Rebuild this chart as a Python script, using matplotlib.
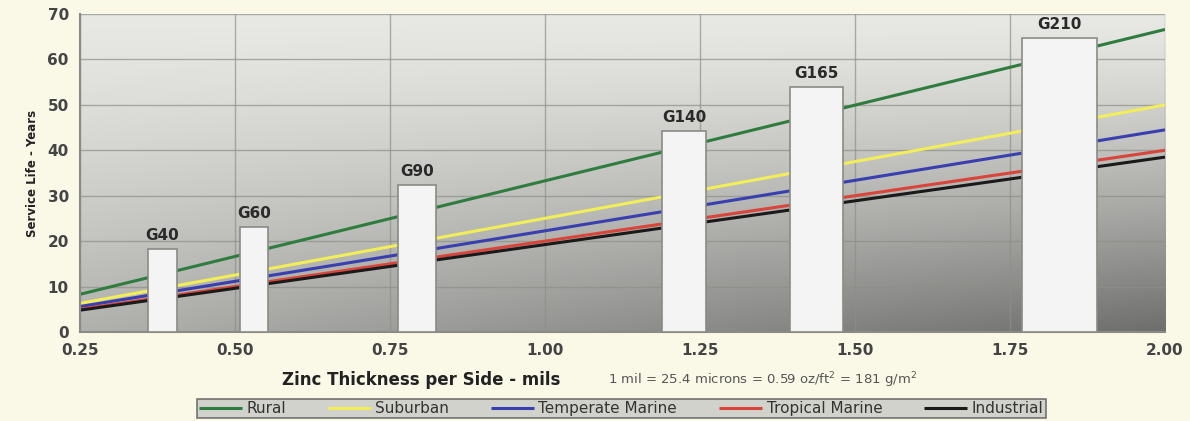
import numpy as np
import matplotlib.pyplot as plt

# coating thickness range (mils) and service life (years) per designation
grades = ['G40', 'G60', 'G90', 'G140', 'G165', 'G210']
grade_lo = [0.36, 0.508, 0.763, 1.189, 1.395, 1.769]
grade_hi = [0.406, 0.553, 0.824, 1.26, 1.48, 1.89]
grade_life = [18.3, 23.1, 32.4, 44.3, 54.0, 64.7]

# service life lines for each environment
thickness = [0.25, 2.00]
rural = [8.3, 66.6]
suburban = [6.3, 50.0]
temperate_marine = [5.6, 44.5]
tropical_marine = [5.0, 40.0]
industrial = [4.8, 38.5]

xticks = [0.25, 0.50, 0.75, 1.00, 1.25, 1.50, 1.75, 2.00]
yticks = [0, 10, 20, 30, 40, 50, 60, 70]

bg = '#faf8e6'
fig = plt.figure(figsize=(11.9, 4.21), dpi=100, facecolor=bg)
ax = fig.add_axes([0.0672, 0.2114, 0.9118, 0.7553])

# shaded plot area: light at the top, darker towards bottom right
ny, nx = 200, 300
ty = np.linspace(0, 1, ny)[:, None]
tx = np.linspace(0, 1, nx)[None, :]
shade = 0.91 - (1 - ty) ** 1.3 * (0.22 + 0.26 * tx)
img = np.dstack([shade, shade, shade * 0.985])
ax.imshow(img, extent=[0, 1, 0, 1], transform=ax.transAxes, origin='lower',
          aspect='auto', zorder=0, interpolation='bilinear')

ax.grid(True, color='#8f8f88', linewidth=1.0, alpha=0.7, zorder=1)

series = [
    ('Rural', rural, '#2e7d3e'),
    ('Suburban', suburban, '#f2ee5a'),
    ('Temperate Marine', temperate_marine, '#3a3fb0'),
    ('Tropical Marine', tropical_marine, '#d9453a'),
    ('Industrial', industrial, '#1a1a1a'),
]
for name, vals, col in series:
    ax.plot(thickness, vals, color=col, linewidth=2.2, label=name, zorder=2,
            solid_capstyle='butt')

for g, lo, hi, life in zip(grades, grade_lo, grade_hi, grade_life):
    ax.bar(lo, life, width=hi - lo, align='edge', color='#f4f4f4',
           edgecolor='#8a8a86', linewidth=1.2, zorder=3)
    ax.text((lo + hi) / 2, life + 1.3, g, ha='center', va='bottom',
            fontsize=11, fontweight='bold', color='#2a2a2a', zorder=4)

ax.set_xlim(0.25, 2.00)
ax.set_ylim(0, 70)
ax.set_xticks(xticks)
ax.set_xticklabels(['%.2f' % v for v in xticks])
ax.set_yticks(yticks)
ax.tick_params(axis='both', length=0, labelsize=11, labelcolor='#444444', pad=8)
for lab in ax.get_xticklabels() + ax.get_yticklabels():
    lab.set_fontweight('bold')
for side in ['top', 'right']:
    ax.spines[side].set_visible(False)
for side in ['left', 'bottom']:
    ax.spines[side].set_color('#8a8a86')
    ax.spines[side].set_linewidth(1.5)

ax.set_ylabel('Service Life - Years', fontsize=8.5, fontweight='bold',
              color='#222222', labelpad=6)
fig.text(0.354, 0.098, 'Zinc Thickness per Side - mils', ha='center', va='center',
         fontsize=12, fontweight='bold', color='#222222')
fig.text(0.511, 0.098, '1 mil = 25.4 microns = 0.59 oz/ft$^2$ = 181 g/m$^2$',
         ha='left', va='center', fontsize=9.5, color='#555555')

leg = fig.legend(loc='lower center', bbox_to_anchor=(0.522, -0.012), ncol=5,
                 frameon=True, fancybox=False, fontsize=11, handlelength=2.8,
                 columnspacing=2.75, handletextpad=0.3, borderpad=0.15)
leg.get_frame().set_facecolor('#c9c9c6')
leg.get_frame().set_edgecolor('#555555')
leg.get_frame().set_linewidth(1.2)
for t in leg.get_texts():
    t.set_color('#333333')

fig.savefig('out.png', dpi=100, facecolor=bg)
